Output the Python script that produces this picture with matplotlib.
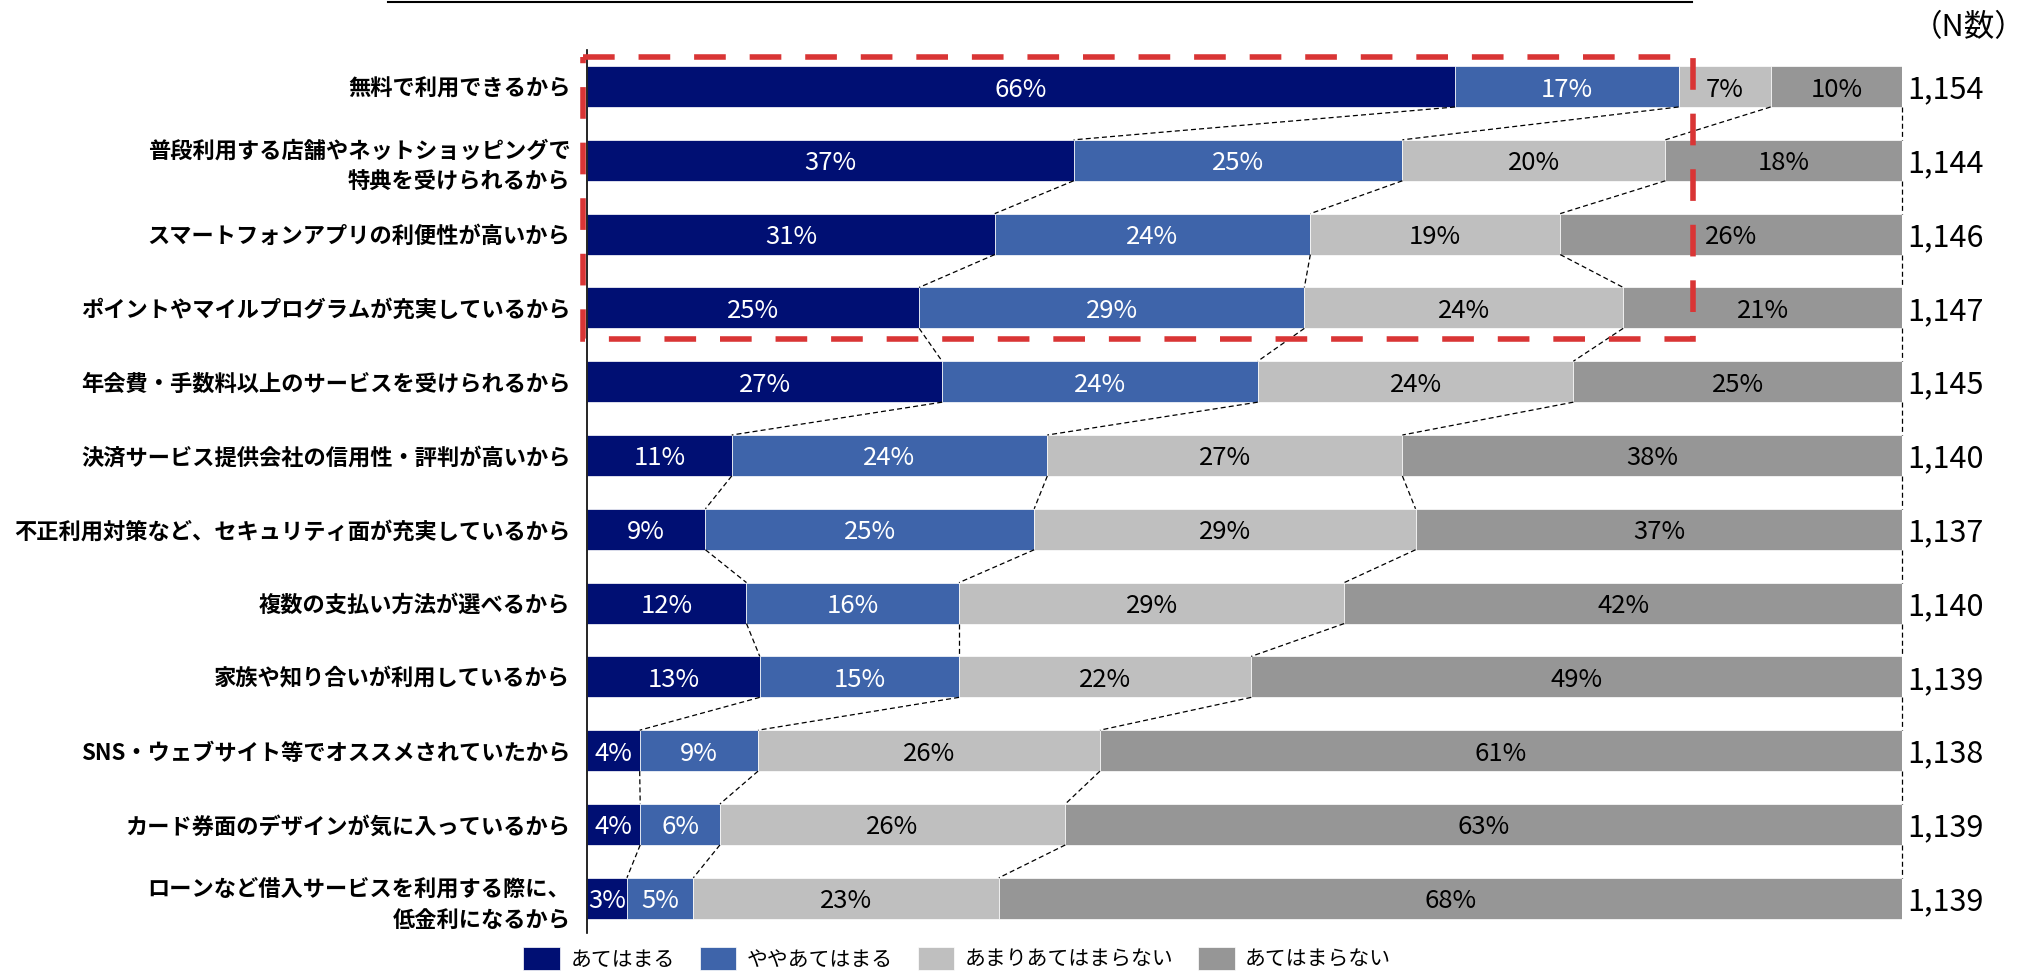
import matplotlib.pyplot as plt
from matplotlib.lines import Line2D
from matplotlib.patches import Rectangle
import numpy as np

plt.rcParams['font.family'] = ['Noto Sans CJK JP', 'DejaVu Sans']

reasons = [
    '無料で利用できるから',
    '普段利用する店舗やネットショッピングで\n特典を受けられるから',
    'スマートフォンアプリの利便性が高いから',
    'ポイントやマイルプログラムが充実しているから',
    '年会費・手数料以上のサービスを受けられるから',
    '決済サービス提供会社の信用性・評判が高いから',
    '不正利用対策など、セキュリティ面が充実しているから',
    '複数の支払い方法が選べるから',
    '家族や知り合いが利用しているから',
    'SNS・ウェブサイト等でオススメされていたから',
    'カード券面のデザインが気に入っているから',
    'ローンなど借入サービスを利用する際に、\n低金利になるから',
]
applies = [66, 37, 31, 25, 27, 11, 9, 12, 13, 4, 4, 3]
somewhat = [17, 25, 24, 29, 24, 24, 25, 16, 15, 9, 6, 5]
not_really = [7, 20, 19, 24, 24, 27, 29, 29, 22, 26, 26, 23]
not_at_all = [10, 18, 26, 21, 25, 38, 37, 42, 49, 61, 63, 68]
n_counts = [1154, 1144, 1146, 1147, 1145, 1140, 1137, 1140, 1139, 1138, 1139, 1139]
series_names = ['あてはまる', 'ややあてはまる', 'あまりあてはまらない', 'あてはまらない']

colors = ['#000f73', '#3e64aa', '#bfbfbf', '#969696']
text_colors = ['white', 'white', 'black', 'black']

# 100% stacked: scale each row by its own total
values = np.array([applies, somewhat, not_really, not_at_all], dtype=float)
shares = values / values.sum(axis=0) * 100
lefts = np.vstack([np.zeros(len(reasons)), np.cumsum(shares, axis=0)[:-1]])
rights = lefts + shares

fig = plt.figure(figsize=(20.3, 9.76), dpi=100)
ax = fig.add_axes([0.2892, 0.0441, 0.6478, 0.9047])

y = np.arange(len(reasons))
h = 0.555

for k in range(4):
    ax.barh(y, shares[k], left=lefts[k], height=h, color=colors[k],
            label=series_names[k], edgecolor='white', linewidth=0.5)
    for yi, lf, w, v in zip(y, lefts[k], shares[k], values[k]):
        ax.text(lf + w / 2, yi, f'{v:.0f}%', ha='center', va='center_baseline',
                color=text_colors[k], fontsize=18.5)

# dashed guides joining segment boundaries of neighbouring rows
for i in range(len(reasons) - 1):
    for k in range(4):
        ax.plot([rights[k, i], rights[k, i + 1]], [i + h / 2, i + 1 - h / 2],
                ls=(0, (4, 2.5)), color='black', lw=0.9, clip_on=False)

# sample sizes
for yi, n in zip(y, n_counts):
    ax.annotate(f'{n:,}', xy=(100, yi), xytext=(4, 0), textcoords='offset points',
                ha='left', va='center_baseline', fontsize=22, annotation_clip=False)
fig.text(0.998, 0.972, '（N数）', ha='right', va='center', fontsize=22)

# highlight box around the top four reasons
ax.add_patch(Rectangle((-0.3, -0.40), 84.4, 3.82, fill=False, edgecolor='#d93535',
                       lw=4, linestyle=(0, (5.7, 4.3)), clip_on=False, zorder=5))

ax.set_xlim(0, 100)
ax.set_ylim(11.47, -0.495)
ax.set_yticks(y, reasons)
ax.set_xticks([])
ax.tick_params(axis='y', length=0, pad=12)
for lbl in ax.get_yticklabels():
    lbl.set_fontsize(16)
    lbl.set_fontweight('bold')
    lbl.set_linespacing(1.45)
for side in ('top', 'right', 'bottom'):
    ax.spines[side].set_visible(False)
ax.spines['left'].set_color('black')
ax.spines['left'].set_linewidth(1.2)

fig.add_artist(Line2D([0.191, 0.8335], [0.998, 0.998], color='black', lw=1.5))

fig.legend(loc='center', bbox_to_anchor=(0.4716, 0.0174), ncol=4, frameon=False,
           fontsize=15, handlelength=1.75, handleheight=1.3, handletextpad=0.5,
           columnspacing=1.2, borderpad=0, borderaxespad=0)

fig.savefig('out.png', dpi=100)
